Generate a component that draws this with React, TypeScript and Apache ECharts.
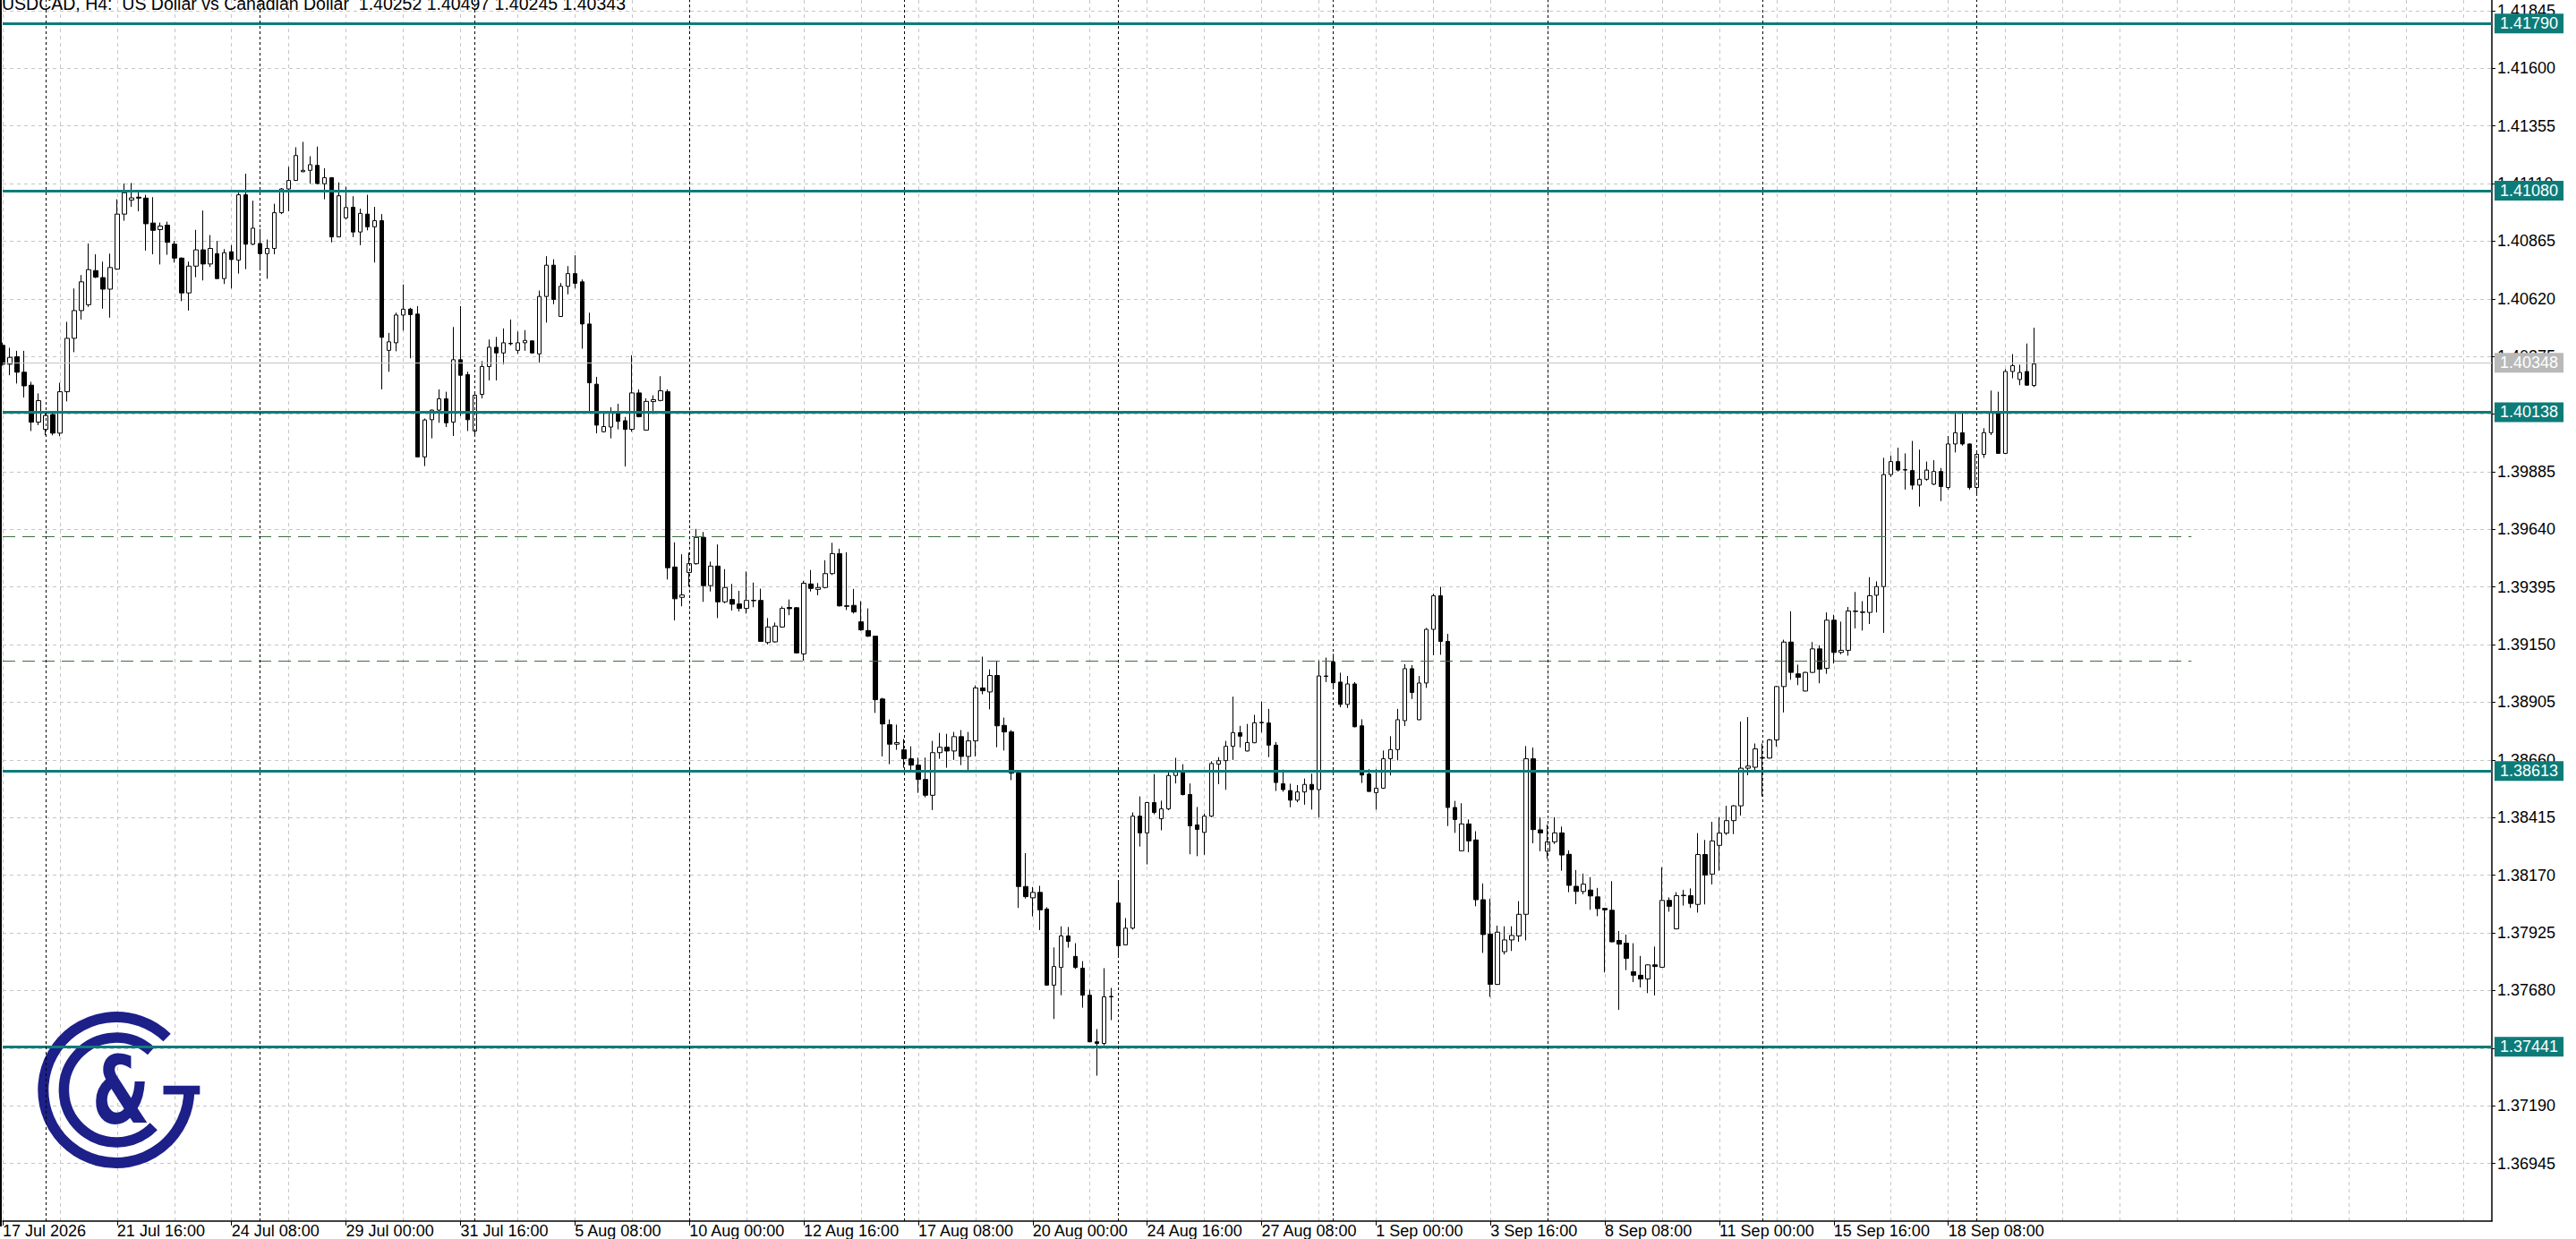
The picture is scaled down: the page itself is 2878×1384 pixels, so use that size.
import React, { useEffect, useRef } from "react";
import * as echarts from "echarts";

const TITLE = "USDCAD, H4:  US Dollar vs Canadian Dollar  1.40252 1.40497 1.40245 1.40343";

const OPEN = [
  1.40422, 1.40342, 1.40374, 1.40308, 1.40253, 1.40096, 1.40065, 1.40128, 1.40049, 1.40225,
  1.40452, 1.40570, 1.40595, 1.40740, 1.40710, 1.40661, 1.40746, 1.40980, 1.41040, 1.41052,
  1.41048, 1.40942, 1.40914, 1.40933, 1.40852, 1.40793, 1.40645, 1.40759, 1.40828, 1.40768,
  1.40812, 1.40706, 1.40820, 1.40784, 1.41062, 1.40852, 1.40855, 1.40812, 1.40834, 1.40986,
  1.41087, 1.41123, 1.41160, 1.41166, 1.41187, 1.41109, 1.41135, 1.40883, 1.40964, 1.41009,
  1.40904, 1.40980, 1.40926, 1.40952, 1.40401, 1.40433, 1.40551, 1.40576, 1.40555, 1.39948,
  1.40106, 1.40147, 1.40195, 1.40096, 1.40361, 1.40298, 1.40058, 1.40214, 1.40332, 1.40414,
  1.40390, 1.40431, 1.40401, 1.40433, 1.40441, 1.40386, 1.40630, 1.40763, 1.40545, 1.40673,
  1.40727, 1.40692, 1.40513, 1.40257, 1.40055, 1.40075, 1.40137, 1.40102, 1.40065, 1.40220,
  1.40062, 1.40183, 1.40188, 1.40225, 1.39480, 1.39351, 1.39457, 1.39494, 1.39606, 1.39401,
  1.39484, 1.39332, 1.39342, 1.39323, 1.39304, 1.39338, 1.39338, 1.39159, 1.39162, 1.39225,
  1.39308, 1.39307, 1.39111, 1.39408, 1.39385, 1.39393, 1.39452, 1.39537, 1.39315, 1.39317,
  1.39247, 1.39210, 1.39186, 1.38919, 1.38810, 1.38727, 1.38703, 1.38665, 1.38638, 1.38577,
  1.38510, 1.38691, 1.38714, 1.38698, 1.38759, 1.38675, 1.38741, 1.38966, 1.38949, 1.39019,
  1.38807, 1.38779, 1.38604, 1.38122, 1.38074, 1.38097, 1.38026, 1.37703, 1.37778, 1.37912,
  1.37825, 1.37775, 1.37660, 1.37462, 1.37455, 1.37653, 1.38052, 1.37874, 1.37945, 1.38421,
  1.38350, 1.38479, 1.38410, 1.38452, 1.38594, 1.38608, 1.38513, 1.38384, 1.38352, 1.38421,
  1.38642, 1.38657, 1.38718, 1.38776, 1.38698, 1.38733, 1.38818, 1.38817, 1.38723, 1.38559,
  1.38530, 1.38489, 1.38524, 1.38556, 1.38534, 1.39017, 1.39076, 1.38991, 1.38896, 1.38983,
  1.38805, 1.38600, 1.38521, 1.38540, 1.38665, 1.38704, 1.38827, 1.39048, 1.38831, 1.38987,
  1.39215, 1.39358, 1.39164, 1.38458, 1.38274, 1.38388, 1.38320, 1.38066, 1.37920, 1.37706,
  1.37845, 1.37895, 1.37912, 1.38004, 1.38665, 1.38363, 1.38272, 1.38312, 1.38350, 1.38259,
  1.38123, 1.38101, 1.38107, 1.38078, 1.38029, 1.38021, 1.37893, 1.37881, 1.37760, 1.37745,
  1.37729, 1.37789, 1.37779, 1.38063, 1.37942, 1.38083, 1.38083, 1.38046, 1.38258, 1.38175,
  1.38297, 1.38349, 1.38402, 1.38465, 1.38625, 1.38629, 1.38668, 1.38668, 1.38745, 1.38972,
  1.39161, 1.39026, 1.38953, 1.39032, 1.39132, 1.39049, 1.39254, 1.39117, 1.39126, 1.39291,
  1.39287, 1.39287, 1.39360, 1.39397, 1.39873, 1.39928, 1.39892, 1.39890, 1.39828, 1.39853,
  1.39832, 1.39886, 1.39818, 1.40003, 1.40051, 1.40003, 1.39818, 1.39959, 1.40051, 1.40138,
  1.39963, 1.40311, 1.40277, 1.40311, 1.40252,
];

const HIGH = [
  1.40434, 1.40412, 1.40399, 1.40399, 1.40267, 1.40218, 1.40140, 1.40136, 1.40263, 1.40522,
  1.40664, 1.40721, 1.40855, 1.40809, 1.40778, 1.40812, 1.41043, 1.41110, 1.41112, 1.41075,
  1.41062, 1.41052, 1.40944, 1.40948, 1.40866, 1.40796, 1.40778, 1.40913, 1.40995, 1.40891,
  1.40866, 1.40831, 1.40848, 1.41071, 1.41152, 1.41037, 1.40917, 1.40872, 1.41024, 1.41091,
  1.41181, 1.41264, 1.41287, 1.41226, 1.41267, 1.41175, 1.41137, 1.41115, 1.41096, 1.41056,
  1.41003, 1.41062, 1.41011, 1.40980, 1.40475, 1.40561, 1.40681, 1.40582, 1.40589, 1.40111,
  1.40149, 1.40235, 1.40225, 1.40500, 1.40589, 1.40310, 1.40225, 1.40355, 1.40447, 1.40458,
  1.40494, 1.40532, 1.40481, 1.40487, 1.40443, 1.40655, 1.40801, 1.40788, 1.40687, 1.40759,
  1.40805, 1.40702, 1.40561, 1.40288, 1.40134, 1.40159, 1.40174, 1.40118, 1.40380, 1.40235,
  1.40197, 1.40210, 1.40291, 1.40235, 1.39585, 1.39534, 1.39541, 1.39642, 1.39629, 1.39503,
  1.39576, 1.39471, 1.39408, 1.39379, 1.39461, 1.39414, 1.39388, 1.39263, 1.39244, 1.39313,
  1.39342, 1.39310, 1.39421, 1.39467, 1.39412, 1.39509, 1.39583, 1.39558, 1.39543, 1.39387,
  1.39335, 1.39304, 1.39188, 1.38924, 1.38832, 1.38810, 1.38749, 1.38718, 1.38670, 1.38670,
  1.38741, 1.38775, 1.38771, 1.38779, 1.38787, 1.38779, 1.38977, 1.39099, 1.39045, 1.39080,
  1.38840, 1.38787, 1.38611, 1.38264, 1.38120, 1.38125, 1.38034, 1.37863, 1.37953, 1.37950,
  1.37881, 1.37805, 1.37683, 1.37516, 1.37775, 1.37691, 1.38143, 1.37988, 1.38437, 1.38505,
  1.38482, 1.38600, 1.38487, 1.38611, 1.38669, 1.38642, 1.38560, 1.38460, 1.38432, 1.38654,
  1.38672, 1.38741, 1.38929, 1.38805, 1.38813, 1.38852, 1.38909, 1.38877, 1.38736, 1.38619,
  1.38559, 1.38553, 1.38581, 1.38602, 1.39083, 1.39095, 1.39111, 1.39031, 1.39017, 1.38991,
  1.38833, 1.38621, 1.38621, 1.38700, 1.38761, 1.38877, 1.39067, 1.39063, 1.39017, 1.39221,
  1.39367, 1.39396, 1.39196, 1.38486, 1.38476, 1.38407, 1.38357, 1.38135, 1.38070, 1.37956,
  1.37953, 1.37953, 1.38060, 1.38719, 1.38713, 1.38417, 1.38385, 1.38417, 1.38377, 1.38276,
  1.38192, 1.38177, 1.38162, 1.38116, 1.38031, 1.38145, 1.37933, 1.37918, 1.37881, 1.37827,
  1.37791, 1.37867, 1.38204, 1.38076, 1.38098, 1.38108, 1.38114, 1.38349, 1.38320, 1.38397,
  1.38417, 1.38465, 1.38468, 1.38823, 1.38842, 1.38730, 1.38730, 1.38749, 1.38975, 1.39171,
  1.39292, 1.39065, 1.39035, 1.39161, 1.39148, 1.39287, 1.39277, 1.39248, 1.39310, 1.39374,
  1.39335, 1.39437, 1.39419, 1.39944, 1.39954, 1.39987, 1.39963, 1.40016, 1.39979, 1.39928,
  1.39934, 1.39901, 1.40037, 1.40138, 1.40138, 1.40005, 1.39967, 1.40070, 1.40230, 1.40225,
  1.40321, 1.40385, 1.40340, 1.40430, 1.40497,
];

const LOW = [
  1.40336, 1.40295, 1.40260, 1.40200, 1.40058, 1.40083, 1.40040, 1.40040, 1.40036, 1.40184,
  1.40393, 1.40532, 1.40586, 1.40708, 1.40578, 1.40540, 1.40744, 1.40952, 1.41011, 1.40992,
  1.40825, 1.40809, 1.40766, 1.40807, 1.40774, 1.40610, 1.40570, 1.40712, 1.40698, 1.40755,
  1.40705, 1.40683, 1.40664, 1.40727, 1.40746, 1.40848, 1.40740, 1.40705, 1.40809, 1.40980,
  1.40992, 1.41121, 1.41158, 1.41109, 1.41106, 1.41043, 1.40860, 1.40882, 1.40957, 1.40882,
  1.40848, 1.40911, 1.40774, 1.40235, 1.40310, 1.40397, 1.40485, 1.40367, 1.39947, 1.39909,
  1.40027, 1.40093, 1.40075, 1.40037, 1.40122, 1.40058, 1.40040, 1.40197, 1.40273, 1.40273,
  1.40342, 1.40422, 1.40386, 1.40399, 1.40389, 1.40350, 1.40519, 1.40597, 1.40543, 1.40639,
  1.40664, 1.40408, 1.40140, 1.40048, 1.40052, 1.40027, 1.40065, 1.39907, 1.40055, 1.40116,
  1.40061, 1.40130, 1.40184, 1.39427, 1.39253, 1.39313, 1.39396, 1.39490, 1.39332, 1.39376,
  1.39263, 1.39326, 1.39295, 1.39291, 1.39282, 1.39309, 1.39162, 1.39151, 1.39159, 1.39222,
  1.39275, 1.39113, 1.39082, 1.39376, 1.39360, 1.39389, 1.39446, 1.39312, 1.39297, 1.39282,
  1.39209, 1.39183, 1.38860, 1.38675, 1.38642, 1.38703, 1.38627, 1.38615, 1.38520, 1.38501,
  1.38447, 1.38665, 1.38627, 1.38660, 1.38638, 1.38615, 1.38675, 1.38939, 1.38875, 1.38714,
  1.38700, 1.38574, 1.38031, 1.38071, 1.37995, 1.37937, 1.37700, 1.37559, 1.37660, 1.37862,
  1.37772, 1.37607, 1.37460, 1.37318, 1.37447, 1.37554, 1.37828, 1.37872, 1.37939, 1.38292,
  1.38216, 1.38429, 1.38361, 1.38447, 1.38560, 1.38509, 1.38259, 1.38251, 1.38257, 1.38417,
  1.38557, 1.38533, 1.38660, 1.38713, 1.38696, 1.38731, 1.38777, 1.38672, 1.38528, 1.38525,
  1.38459, 1.38480, 1.38470, 1.38449, 1.38415, 1.38991, 1.38966, 1.38884, 1.38881, 1.38799,
  1.38562, 1.38525, 1.38449, 1.38537, 1.38594, 1.38658, 1.38804, 1.38919, 1.38829, 1.38966,
  1.39105, 1.39107, 1.38379, 1.38350, 1.38272, 1.38268, 1.38038, 1.37840, 1.37653, 1.37704,
  1.37833, 1.37848, 1.37887, 1.37893, 1.38306, 1.38272, 1.38240, 1.38303, 1.38189, 1.38098,
  1.38047, 1.38089, 1.38023, 1.37996, 1.37757, 1.37885, 1.37598, 1.37767, 1.37716, 1.37693,
  1.37669, 1.37659, 1.37777, 1.38015, 1.37940, 1.38041, 1.38031, 1.38011, 1.38046, 1.38131,
  1.38189, 1.38341, 1.38345, 1.38424, 1.38595, 1.38614, 1.38505, 1.38666, 1.38717, 1.38862,
  1.39001, 1.38978, 1.38951, 1.39030, 1.38986, 1.39026, 1.39070, 1.39109, 1.39103, 1.39219,
  1.39210, 1.39238, 1.39287, 1.39200, 1.39863, 1.39886, 1.39809, 1.39809, 1.39737, 1.39847,
  1.39828, 1.39760, 1.39809, 1.39967, 1.39996, 1.39809, 1.39789, 1.39944, 1.40041, 1.39961,
  1.39961, 1.40282, 1.40253, 1.40251, 1.40245,
];

const CLOSE = [
  1.40342, 1.40371, 1.40308, 1.40250, 1.40096, 1.40187, 1.40124, 1.40049, 1.40225, 1.40452,
  1.40570, 1.40692, 1.40744, 1.40712, 1.40661, 1.40753, 1.40980, 1.41071, 1.41049, 1.41048,
  1.40939, 1.40911, 1.40929, 1.40860, 1.40793, 1.40645, 1.40759, 1.40828, 1.40768, 1.40834,
  1.40706, 1.40816, 1.40787, 1.41062, 1.40852, 1.40920, 1.40812, 1.40834, 1.40986, 1.41087,
  1.41123, 1.41229, 1.41166, 1.41190, 1.41110, 1.41135, 1.40883, 1.41058, 1.41008, 1.40904,
  1.40983, 1.40926, 1.40952, 1.40456, 1.40437, 1.40551, 1.40576, 1.40553, 1.39948, 1.40105,
  1.40147, 1.40195, 1.40093, 1.40361, 1.40295, 1.40106, 1.40210, 1.40332, 1.40414, 1.40390,
  1.40433, 1.40429, 1.40433, 1.40443, 1.40390, 1.40630, 1.40763, 1.40617, 1.40673, 1.40727,
  1.40686, 1.40513, 1.40263, 1.40083, 1.40077, 1.40137, 1.40099, 1.40065, 1.40220, 1.40119,
  1.40184, 1.40191, 1.40229, 1.39477, 1.39345, 1.39361, 1.39494, 1.39606, 1.39401, 1.39484,
  1.39332, 1.39393, 1.39322, 1.39304, 1.39338, 1.39337, 1.39164, 1.39225, 1.39229, 1.39304,
  1.39303, 1.39115, 1.39411, 1.39389, 1.39393, 1.39452, 1.39537, 1.39315, 1.39313, 1.39289,
  1.39213, 1.39186, 1.38916, 1.38813, 1.38727, 1.38734, 1.38665, 1.38638, 1.38577, 1.38510,
  1.38691, 1.38714, 1.38698, 1.38759, 1.38675, 1.38741, 1.38966, 1.38954, 1.39019, 1.38805,
  1.38779, 1.38604, 1.38122, 1.38079, 1.38097, 1.38023, 1.37703, 1.37782, 1.37912, 1.37889,
  1.37778, 1.37660, 1.37462, 1.37455, 1.37653, 1.37655, 1.37870, 1.37945, 1.38421, 1.38350,
  1.38479, 1.38437, 1.38452, 1.38594, 1.38608, 1.38513, 1.38380, 1.38365, 1.38421, 1.38645,
  1.38657, 1.38718, 1.38776, 1.38761, 1.38734, 1.38818, 1.38820, 1.38723, 1.38564, 1.38534,
  1.38489, 1.38524, 1.38556, 1.38534, 1.39017, 1.39015, 1.38988, 1.38896, 1.38983, 1.38801,
  1.38596, 1.38526, 1.38540, 1.38665, 1.38704, 1.38831, 1.39048, 1.38947, 1.38987, 1.39215,
  1.39358, 1.39164, 1.38458, 1.38407, 1.38388, 1.38316, 1.38066, 1.37918, 1.37706, 1.37928,
  1.37895, 1.37914, 1.38004, 1.38665, 1.38364, 1.38350, 1.38312, 1.38350, 1.38256, 1.38127,
  1.38101, 1.38132, 1.38082, 1.38028, 1.38023, 1.37887, 1.37877, 1.37817, 1.37745, 1.37729,
  1.37789, 1.37782, 1.38063, 1.38038, 1.38083, 1.38085, 1.38050, 1.38258, 1.38171, 1.38316,
  1.38349, 1.38402, 1.38465, 1.38625, 1.38634, 1.38707, 1.38670, 1.38745, 1.38972, 1.39161,
  1.39032, 1.39011, 1.39032, 1.39132, 1.39046, 1.39254, 1.39117, 1.39126, 1.39293, 1.39293,
  1.39289, 1.39358, 1.39397, 1.39873, 1.39928, 1.39892, 1.39894, 1.39828, 1.39853, 1.39892,
  1.39886, 1.39822, 1.40003, 1.40051, 1.40003, 1.39818, 1.39959, 1.40051, 1.40138, 1.39963,
  1.40311, 1.40336, 1.40307, 1.40253, 1.40343,
];

const Y_TICKS = [
  1.36945, 1.3719, 1.37435, 1.3768, 1.37925, 1.3817, 1.38415, 1.3866, 1.38905, 1.3915,
  1.39395, 1.3964, 1.39885, 1.4013, 1.40375, 1.4062, 1.40865, 1.4111, 1.41355, 1.416, 1.41845,
];

const X_LABELS = [
  "17 Jul 2026", "21 Jul 16:00", "24 Jul 08:00", "29 Jul 00:00", "31 Jul 16:00", "5 Aug 08:00",
  "10 Aug 00:00", "12 Aug 16:00", "17 Aug 08:00", "20 Aug 00:00", "24 Aug 16:00", "27 Aug 08:00",
  "1 Sep 00:00", "3 Sep 16:00", "8 Sep 08:00", "11 Sep 00:00", "15 Sep 16:00", "18 Sep 08:00",
];

const LEVELS = [1.4179, 1.4108, 1.40138, 1.38613, 1.37441];
const BID = 1.40348;
const DASHED_LEVELS = [1.3961, 1.3908];

const Y_MIN = 1.367;
const Y_MAX = 1.4189;
const TOTAL_SLOTS = 349;
const LABEL_STEP = 16;
const GRID_STEP = 8;
const DASHED_END = 306;

const FONT = '"Liberation Sans", Arial, sans-serif';
const TEAL = "#0d7c79";
const NAVY = "#1d2088";
const MONTHS = ["Jan", "Feb", "Mar", "Apr", "May", "Jun", "Jul", "Aug", "Sep", "Oct", "Nov", "Dec"];

function buildTimes(n: number): number[] {
  const out: number[] = [];
  let t = Date.UTC(2026, 6, 17, 0, 0);
  while (out.length < n) {
    const wd = new Date(t).getUTCDay();
    if (wd !== 0 && wd !== 6) out.push(t);
    t += 4 * 3600 * 1000;
  }
  return out;
}

const TIMES = buildTimes(TOTAL_SLOTS);
const CATS = TIMES.map((t) => {
  const d = new Date(t);
  const hh = String(d.getUTCHours()).padStart(2, "0");
  return `${d.getUTCDate()} ${MONTHS[d.getUTCMonth()]} ${d.getUTCFullYear()} ${hh}:00`;
});
const N_BARS = OPEN.length;
const SEPARATORS = TIMES.map((t, i) => {
  const d = new Date(t);
  return d.getUTCDay() === 1 && d.getUTCHours() === 0 && i < N_BARS ? i : -1;
}).filter((i) => i >= 0);

function buildOption() {
  const data = OPEN.map((o, i) => [o, CLOSE[i], LOW[i], HIGH[i]]);
  const boxLabel = (txt: string, bg: string) => ({
    show: true,
    position: "end",
    formatter: txt,
    backgroundColor: bg,
    color: "#ffffff",
    padding: [2, 6, 2, 6],
    fontSize: 18,
    lineHeight: 18,
    fontFamily: FONT,
    distance: 3,
  });
  const markData: any[] = [];
  markData.push({
    yAxis: BID,
    lineStyle: { color: "#c4c4c4", width: 1, type: "solid" },
    label: boxLabel(BID.toFixed(5), "#b9b9b9"),
  });
  LEVELS.forEach((v) => {
    markData.push({
      yAxis: v,
      lineStyle: { color: TEAL, width: 3, type: "solid" },
      label: boxLabel(v.toFixed(5), TEAL),
    });
  });
  DASHED_LEVELS.forEach((v) => {
    markData.push([
      { coord: [CATS[0], v], lineStyle: { color: "#3f6f3f", width: 1, type: [14, 8] }, label: { show: false } },
      { coord: [CATS[DASHED_END], v] },
    ]);
  });
  SEPARATORS.forEach((i) => {
    markData.push({
      xAxis: CATS[i],
      lineStyle: { color: "#000000", width: 1, type: [3, 3] },
      label: { show: false },
    });
  });

  return {
    animation: false,
    backgroundColor: "#ffffff",
    grid: { left: 2.7, right: 94, top: 0, bottom: 14, containLabel: false },
    xAxis: {
      type: "category",
      data: CATS,
      boundaryGap: false,
      axisLine: { show: true, onZero: false, lineStyle: { color: "#000", width: 1.5 } },
      axisTick: {
        show: true,
        length: 5,
        interval: (i: number) => i % LABEL_STEP === 0 && i < N_BARS,
        lineStyle: { color: "#000" },
      },
      axisLabel: {
        show: true,
        interval: (i: number) => i % LABEL_STEP === 0 && i < N_BARS,
        formatter: (_v: string, i: number) => X_LABELS[i / LABEL_STEP] ?? "",
        align: "left",
        verticalAlign: "top",
        margin: 2,
        fontSize: 18,
        fontFamily: FONT,
        color: "#000",
      },
      splitLine: {
        show: true,
        interval: (i: number) => i % GRID_STEP === 0,
        lineStyle: { color: "#c6c6c6", type: [4, 4], width: 1 },
      },
    },
    yAxis: {
      type: "value",
      position: "right",
      min: Y_MIN,
      max: Y_MAX,
      axisLine: { show: true, lineStyle: { color: "#000", width: 1.5 } },
      axisTick: { show: true, length: 4, customValues: Y_TICKS, lineStyle: { color: "#000" } },
      axisLabel: {
        customValues: Y_TICKS,
        formatter: (v: number) => v.toFixed(5),
        fontSize: 18,
        fontFamily: FONT,
        color: "#000",
        margin: 6,
      },
      splitLine: { show: true, lineStyle: { color: "#c6c6c6", type: [4, 4], width: 1 } },
    },
    series: [
      {
        type: "candlestick",
        data,
        barWidth: 5,
        itemStyle: {
          color: "#ffffff",
          color0: "#000000",
          borderColor: "#000000",
          borderColor0: "#000000",
          borderWidth: 1,
        },
        emphasis: { disabled: true },
        markLine: {
          silent: true,
          precision: 5,
          symbol: ["none", "none"],
          animation: false,
          emphasis: { disabled: true },
          data: markData,
        },
      },
    ],
    graphic: [
      {
        type: "text",
        x: 2,
        y: -6,
        z: 10,
        style: { text: TITLE, fontSize: 19.5, fontFamily: FONT, fill: "#000", verticalAlign: "top" },
      },
      {
        type: "line",
        shape: { x1: 1, y1: 0, x2: 1, y2: 1370 },
        style: { stroke: "#000", lineWidth: 2 },
        z: 10,
      },
      {
        type: "arc",
        z: 1,
        shape: { cx: 129.8, cy: 1217.5, r: 81.5, startAngle: 0, endAngle: Math.PI * 2 - 0.8, clockwise: true },
        style: { stroke: NAVY, lineWidth: 12, fill: "none" },
      },
      {
        type: "arc",
        z: 1,
        shape: { cx: 129.8, cy: 1217.5, r: 58.4, startAngle: 0.77, endAngle: Math.PI * 2 - 0.84, clockwise: true },
        style: { stroke: NAVY, lineWidth: 11.5, fill: "none" },
      },
      {
        type: "rect",
        z: 1,
        shape: { x: 182.5, y: 1212.7, width: 40.8, height: 9.7 },
        style: { fill: NAVY },
      },
      {
        type: "text",
        z: 1,
        x: 135,
        y: 1219,
        scaleX: 0.7,
        style: {
          text: "&",
          fontSize: 106,
          fontWeight: "bold",
          fontFamily: '"DejaVu Sans", sans-serif',
          fill: NAVY,
          align: "center",
          verticalAlign: "middle",
        },
      },
    ],
  };
}

export default function App() {
  const ref = useRef<HTMLDivElement | null>(null);
  useEffect(() => {
    if (!ref.current) return;
    const chart = echarts.init(ref.current, undefined, { renderer: "svg" });
    chart.setOption(buildOption() as any);
    return () => chart.dispose();
  }, []);
  return (
    <div
      ref={ref}
      style={{ position: "fixed", left: 0, top: 0, width: 2878, height: 1384, background: "#fff" }}
    />
  );
}
